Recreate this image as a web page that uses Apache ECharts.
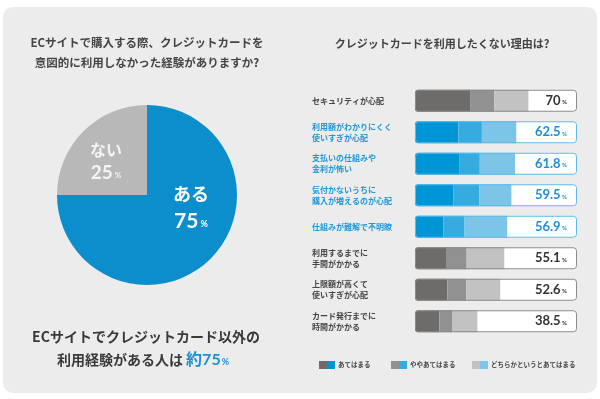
<!DOCTYPE html>
<html>
<head>
<meta charset="utf-8">
<script src="https://cdn.jsdelivr.net/npm/echarts@6/dist/echarts.min.js"></script>
<style>
html, body { margin: 0; background: #fff; }
#main { width: 600px; height: 399px; }
</style>
</head>
<body>
<div id="main"></div>
<script>
// 円グラフのデータ
const pieNames = ['ある', 'ない'];
const pieValues = [75, 25];

// 帯グラフのデータ（上から順）
const reasons = [
  'セキュリティが心配',
  '利用額がわかりにくく\n使いすぎが心配',
  '支払いの仕組みや\n金利が怖い',
  '気付かないうちに\n購入が増えるのが心配',
  '仕組みが難解で不明瞭',
  '利用するまでに\n手間がかかる',
  '上限額が高くて\n使いすぎが心配',
  'カード発行までに\n時間がかかる'
];
const totals = [70, 62.5, 61.8, 59.5, 56.9, 55.1, 52.6, 38.5];
const strong = [34, 26.8, 27.6, 23.6, 17.6, 19.6, 20, 15];
const medium = [15, 14.5, 12.4, 16, 13, 12.3, 11.7, 8.2];
const weak = [21, 21.2, 21.8, 19.9, 26.3, 23.2, 20.9, 15.3];
const legendNames = ['あてはまる', 'ややあてはまる', 'どちらかというとあてはまる'];

const FONT = 'Lato, "Noto Sans CJK JP", sans-serif';
const JP = '"Noto Sans CJK JP", sans-serif';
const grays = ['#6e6b6b', '#929191', '#c2c2c2'];
const blues = ['#0096d6', '#36abe0', '#7cc5e8'];
// 青で強調する行
const blueRows = [1, 2, 3, 4];
const isBlue = i => blueRows.indexOf(i) >= 0;

// 凡例アイコン（グレーと青の2色）
function legendIcon(g, b) {
  const svg = '<svg xmlns="http://www.w3.org/2000/svg" width="16" height="8">' +
    '<rect width="8" height="8" fill="' + g + '"/>' +
    '<rect x="8" width="8" height="8" fill="' + b + '"/></svg>';
  return 'image://data:image/svg+xml;utf8,' + encodeURIComponent(svg);
}

const stackData = [strong, medium, weak];
const legendLeft = [314, 386, 467];

let myChart = echarts.init(document.getElementById('main'));
let option = {
  animation: false,
  graphic: [
    {
      type: 'rect', z: -10,
      shape: { x: 3, y: 7, width: 594, height: 386, r: 10 },
      style: { fill: '#ececec' }
    },
    {
      type: 'text', x: 147, y: 53,
      style: {
        text: 'ECサイトで購入する際、クレジットカードを\n意図的に利用しなかった経験がありますか?',
        font: 'bold 11.5px ' + JP, fill: '#444', align: 'center', verticalAlign: 'middle',
        lineHeight: 20
      }
    },
    {
      type: 'text', x: 442, y: 44,
      style: {
        text: 'クレジットカードを利用したくない理由は?',
        font: 'bold 11px ' + JP, fill: '#444', align: 'center', verticalAlign: 'middle'
      }
    },
    {
      type: 'text', x: 146, y: 337,
      style: {
        text: 'ECサイトでクレジットカード以外の',
        font: 'bold 14px ' + JP, fill: '#3a3a3a', align: 'center', verticalAlign: 'middle'
      }
    },
    {
      type: 'text', x: 143, y: 360,
      style: {
        text: '{a|利用経験がある人は }{b|約75}{c|%}',
        align: 'center', verticalAlign: 'middle',
        rich: {
          a: { fontSize: 14, fontWeight: 'bold', fontFamily: JP, fill: '#3a3a3a' },
          b: { fontSize: 16, fontWeight: 'bold', fontFamily: FONT, fill: '#1a90d2' },
          c: { fontSize: 9, fontWeight: 'bold', fontFamily: FONT, fill: '#1a90d2', padding: [4, 0, 0, 1] }
        }
      }
    }
  ],
  legend: legendNames.map((n, k) => ({
    data: [{ name: n, icon: legendIcon(grays[k], blues[k]) }],
    left: legendLeft[k], top: 356,
    itemWidth: 16, itemHeight: 8, itemGap: 0,
    selectedMode: false,
    textStyle: { fontSize: 6.5, fontWeight: 'bold', color: '#444', fontFamily: JP, padding: [0, 0, 0, -2] }
  })),
  grid: { left: 415, right: 23, top: 85, height: 252 },
  xAxis: { type: 'value', min: 0, max: 100, show: false },
  yAxis: {
    type: 'category',
    data: reasons,
    inverse: true,
    axisLine: { show: false },
    axisTick: { show: false },
    axisLabel: {
      align: 'left', margin: 103,
      fontSize: 8, fontWeight: 'bold', lineHeight: 11, fontFamily: JP,
      color: (v, i) => isBlue(i) ? '#1f97d5' : '#444'
    }
  },
  series: [
    {
      type: 'pie',
      center: [147, 195],
      radius: 90,
      startAngle: 90,
      silent: true,
      emphasis: { disabled: true },
      data: pieNames.map((n, i) => ({ name: n, value: pieValues[i] })),
      color: ['#0b8ecb', '#b9b8b8'],
      labelLine: { show: false },
      label: {
        position: 'inside',
        color: '#fff',
        formatter: p => p.dataIndex === 0
          ? '{n1|' + p.name + '}\n{p1|' + p.value + '}{u1| %}'
          : '{n2|' + p.name + '}\n{p2|' + p.value + '}{u2| %}',
        rich: {
          n1: { fontSize: 18, fontWeight: 'bold', fontFamily: JP, color: '#fff', lineHeight: 27 },
          p1: { fontSize: 21, fontWeight: 'bold', fontFamily: FONT, color: '#fff', lineHeight: 27 },
          u1: { fontSize: 9, fontWeight: 'bold', fontFamily: FONT, color: '#fff', padding: [6, 0, 0, 0] },
          n2: { fontSize: 16, fontWeight: 'bold', fontFamily: JP, color: '#f4f4f4', lineHeight: 23 },
          p2: { fontSize: 19, fontWeight: 'bold', fontFamily: FONT, color: '#f4f4f4', lineHeight: 23 },
          u2: { fontSize: 8, fontWeight: 'bold', fontFamily: FONT, color: '#f4f4f4', padding: [6, 0, 0, 0] }
        }
      },
      labelLayout: p => p.dataIndex === 0 ? { dx: 10, dy: -21 } : { dx: -7, dy: 0 }
    },
    // 白地
    {
      type: 'bar', name: 'base', barWidth: 22, barGap: '-100%', silent: true,
      data: totals.map(() => 100),
      itemStyle: { color: '#fff', borderRadius: 3 }
    },
    // 積み上げ
    ...legendNames.map((n, k) => ({
      type: 'bar', name: n, stack: 'total', barWidth: 22, barGap: '-100%', silent: true,
      data: stackData[k],
      itemStyle: {
        color: p => isBlue(p.dataIndex) ? blues[k] : grays[k],
        borderRadius: k === 0 ? [3, 0, 0, 3] : 0
      }
    })),
    // 枠と合計値
    {
      type: 'bar', name: 'frame', barWidth: 22, barGap: '-100%', silent: true,
      data: totals.map((t, i) => ({
        value: 100,
        itemStyle: { borderColor: isBlue(i) ? '#5cb9e6' : '#8a8a8a' },
        label: { color: isBlue(i) ? '#1a90d2' : '#333' }
      })),
      itemStyle: { color: 'transparent', borderWidth: 1, borderRadius: 3 },
      label: {
        show: true, position: 'insideRight', distance: 10,
        formatter: p => '{v|' + totals[p.dataIndex] + '}{u| %}',
        rich: {
          v: { fontSize: 13, fontWeight: 'bold', fontFamily: FONT },
          u: { fontSize: 6, fontWeight: 'bold', fontFamily: FONT, padding: [3, 0, 0, 0] }
        }
      }
    }
  ]
};
option && myChart.setOption(option);
</script>
</body>
</html>
